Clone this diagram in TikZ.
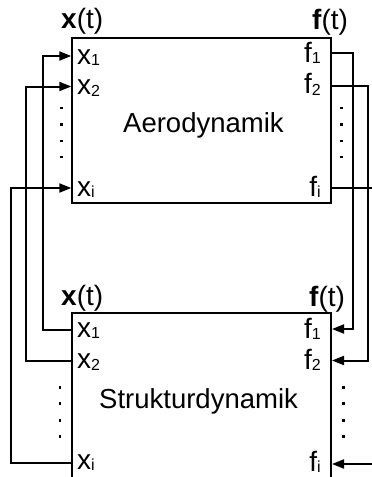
\documentclass[tikz,border=0pt]{standalone}
\usepackage{fontspec}
\setmainfont{Liberation Sans}
\usetikzlibrary{arrows.meta}
\newcommand{\portidx}[1]{\raisebox{-1.5pt}{\fontsize{16}{16}\selectfont #1}}

\begin{document}
\begin{tikzpicture}[
    x=1pt,y=-1pt,
    block/.style={rectangle,draw,line width=2pt,inner sep=0pt},
    title/.style={inner sep=0pt,anchor=base west,font=\fontsize{27.5}{30}\selectfont},
    vec/.style={inner sep=0pt,anchor=base west,font=\fontsize{28}{30}\selectfont},
    xport/.style={inner sep=0pt,anchor=base west,font=\fontsize{28}{30}\selectfont},
    fport/.style={inner sep=0pt,anchor=base east,font=\fontsize{28}{30}\selectfont},
    wire/.style={line width=2pt},
    arrow/.style={line width=2pt,-{Triangle[length=12pt,width=9pt]}}
  ]
  \useasboundingbox (0,0) rectangle (372,477);
  \clip (0,0) rectangle (372,477);

  \node[block,minimum width=258.7pt,minimum height=165pt] (aero) at (201.65,120.8) {};
  \node[block,minimum width=258.7pt,minimum height=207pt] (struct) at (201.65,416.5) {};

  \node[title] (aerotext) at (123,132) {Aerodynamik};
  \node[title] (structtext) at (99,408) {Strukturdynamik};

  \node[vec] (ax) at (61,28) {\textbf{x}(t)};
  \node[vec] (af) at (312,29) {\textbf{f}(t)};
  \node[vec] (sx) at (61,305) {\textbf{x}(t)};
  \node[vec] (sf) at (309,306) {\textbf{f}(t)};

  \node[xport] (ax1label) at (77,64) {x\portidx{1}};
  \node[xport] (ax2label) at (77,94.5) {x\portidx{2}};
  \node[xport] (axilabel) at (77,196) {x\portidx{i}};
  \node[fport] (af1label) at (321,62) {f\portidx{1}};
  \node[fport] (af2label) at (321,93.5) {f\portidx{2}};
  \node[fport] (afilabel) at (321,196) {f\portidx{i}};

  \node[xport] (sx1label) at (77,337) {x\portidx{1}};
  \node[xport] (sx2label) at (77,368.5) {x\portidx{2}};
  \node[xport] (sxilabel) at (77,469) {x\portidx{i}};
  \node[fport] (sf1label) at (321,338) {f\portidx{1}};
  \node[fport] (sf2label) at (321,369) {f\portidx{2}};
  \node[fport] (sfilabel) at (321,471) {f\portidx{i}};

  \coordinate (ax1) at (aero.west |- 0,56);
  \coordinate (ax2) at (aero.west |- 0,86.5);
  \coordinate (axi) at (aero.west |- 0,188);
  \coordinate (af1) at (aero.east |- 0,53);
  \coordinate (af2) at (aero.east |- 0,86);
  \coordinate (afi) at (aero.east |- 0,187.5);
  \coordinate (sx1) at (struct.west |- 0,330);
  \coordinate (sx2) at (struct.west |- 0,361);
  \coordinate (sxi) at (struct.west |- 0,463);
  \coordinate (sf1) at (struct.east |- 0,329);
  \coordinate (sf2) at (struct.east |- 0,360.5);
  \coordinate (sfi) at (struct.east |- 0,464);
  \coordinate (outr) at (376,187.5);
  \coordinate (inr) at (376,464);

  \draw[arrow] (sx1) -- ++(-28.5,0) |- (ax1);
  \draw[arrow] (sx2) -- ++(-45.5,0) |- (ax2);
  \draw[arrow] (sxi) -- ++(-60,0) |- (axi);
  \draw[arrow] (af1) -- ++(21,0) |- (sf1);
  \draw[arrow] (af2) -- ++(35.5,0) |- (sf2);
  \draw[wire] (afi) -- (outr);
  \draw[arrow] (inr) -- (sfi);

  \foreach \y in {108,124.5,141,157} {
    \fill (61.7,\y) +(-1.3,-1.3) rectangle +(1.3,1.3);
    \fill (341.3,\y) +(-1.3,-1.3) rectangle +(1.3,1.3);
  }
  \foreach \y in {387.5,403.5,420.5,436.5} {
    \fill (60,\y) +(-1.3,-1.3) rectangle +(1.3,1.3);
    \fill (343.7,\y) +(-1.3,-1.3) rectangle +(1.3,1.3);
  }
\end{tikzpicture}
\end{document}
